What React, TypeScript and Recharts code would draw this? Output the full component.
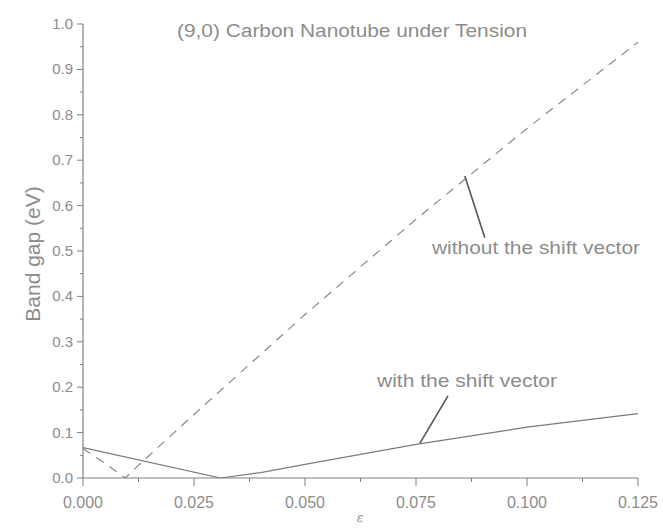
import { Line, LineChart, ReferenceLine, XAxis, YAxis } from "recharts";

// Band gap of a (9,0) carbon nanotube vs. axial strain, two models.
const withoutShiftStrain = [0, 0.005, 0.0095, 0.0125, 0.025, 0.05, 0.075, 0.1, 0.125];
const withoutShiftGap = [0.065, 0.032, 0.0, 0.028, 0.14, 0.36, 0.57, 0.77, 0.96];

const withShiftStrain = [0, 0.031, 0.04, 0.05, 0.075, 0.1, 0.125];
const withShiftGap = [0.067, 0.0, 0.012, 0.03, 0.074, 0.112, 0.142];

// every 0.0125 on x and 0.05 on y; even ones carry a label
const xTicks = [0, 0.0125, 0.025, 0.0375, 0.05, 0.0625, 0.075, 0.0875, 0.1, 0.1125, 0.125];
const yTicks = [0, 0.05, 0.1, 0.15, 0.2, 0.25, 0.3, 0.35, 0.4, 0.45, 0.5, 0.55, 0.6, 0.65, 0.7, 0.75, 0.8, 0.85, 0.9, 0.95, 1.0];

// annotation pointers, in data units
const withoutPointer = [{ x: 0.086, y: 0.665 }, { x: 0.0905, y: 0.529 }];
const withPointer = [{ x: 0.0822, y: 0.181 }, { x: 0.0759, y: 0.077 }];

const withoutData = withoutShiftStrain.map((s, i) => ({ strain: s, gap: withoutShiftGap[i] }));
const withData = withShiftStrain.map((s, i) => ({ strain: s, gap: withShiftGap[i] }));

const INK = "#808080";
const TEXT = "#8c8c8c";
const FONT = "'Liberation Sans', Arial, sans-serif";

function XTick(props: any) {
  const { x, y, payload } = props;
  const v = payload.value as number;
  const major = Math.round(v / 0.0125) % 2 === 0;
  return (
    <g>
      <line x1={x} x2={x} y1={y} y2={y + (major ? 8 : 4)} stroke={INK} strokeWidth={1} />
      {major && (
        <text x={x} y={y + 30} textAnchor="middle" fill={TEXT} fontSize={16} fontFamily={FONT}>
          {v.toFixed(3)}
        </text>
      )}
    </g>
  );
}

function YTick(props: any) {
  const { x, y, payload } = props;
  const v = payload.value as number;
  const major = Math.round(v / 0.05) % 2 === 0;
  return (
    <g>
      <line x1={x - (major ? 6 : 3)} x2={x} y1={y} y2={y} stroke={INK} strokeWidth={1} />
      {major && (
        <text x={x - 10} y={y + 5} textAnchor="end" fill={TEXT} fontSize={15} fontFamily={FONT}>
          {v.toFixed(1)}
        </text>
      )}
    </g>
  );
}

export default function App() {
  return (
    <div style={{ position: "absolute", left: 0, top: 0, width: 663, height: 531, background: "#fff" }}>
      <LineChart
        width={663}
        height={531}
        margin={{ top: 24, right: 25, bottom: 0, left: 33 }}
      >
        <XAxis
          dataKey="strain"
          type="number"
          domain={[0, 0.125]}
          ticks={xTicks}
          interval={0}
          tick={<XTick />}
          tickLine={false}
          tickSize={0}
          tickMargin={0}
          height={53}
          axisLine={{ stroke: INK, strokeWidth: 1.2 }}
          allowDataOverflow
        />
        <YAxis
          type="number"
          domain={[0, 1]}
          ticks={yTicks}
          interval={0}
          tick={<YTick />}
          tickLine={false}
          tickSize={0}
          tickMargin={0}
          width={50}
          axisLine={{ stroke: INK, strokeWidth: 1.2 }}
          allowDataOverflow
        />
        <Line
          data={withoutData}
          dataKey="gap"
          type="linear"
          stroke="#8a8a8a"
          strokeWidth={1.2}
          strokeDasharray="9 7"
          dot={false}
          isAnimationActive={false}
        />
        <Line
          data={withData}
          dataKey="gap"
          type="linear"
          stroke="#7a7a7a"
          strokeWidth={1.2}
          dot={false}
          isAnimationActive={false}
        />
        <ReferenceLine segment={withoutPointer} stroke="#555" strokeWidth={1.6} />
        <ReferenceLine segment={withPointer} stroke="#555" strokeWidth={1.6} />
      </LineChart>
      <svg
        width={663}
        height={531}
        style={{ position: "absolute", left: 0, top: 0, pointerEvents: "none" }}
      >
        <text x={177} y={37} fill={TEXT} fontSize={18} fontFamily={FONT} textLength={350} lengthAdjust="spacingAndGlyphs">
          (9,0) Carbon Nanotube under Tension
        </text>
        <text x={432} y={254} fill={TEXT} fontSize={18} fontFamily={FONT} textLength={208} lengthAdjust="spacingAndGlyphs">
          without the shift vector
        </text>
        <text x={377} y={387} fill={TEXT} fontSize={18} fontFamily={FONT} textLength={180} lengthAdjust="spacingAndGlyphs">
          with the shift vector
        </text>
        <text
          x={32}
          y={254}
          transform="rotate(-90 32 254)"
          textAnchor="middle"
          dominantBaseline="central"
          fill={TEXT}
          fontSize={21}
          fontFamily={FONT}
        >
          Band gap (eV)
        </text>
        <text x={360} y={522} textAnchor="middle" fill={TEXT} fontSize={12} fontStyle="italic" fontFamily="'DejaVu Serif', serif">
          ε
        </text>
      </svg>
    </div>
  );
}
